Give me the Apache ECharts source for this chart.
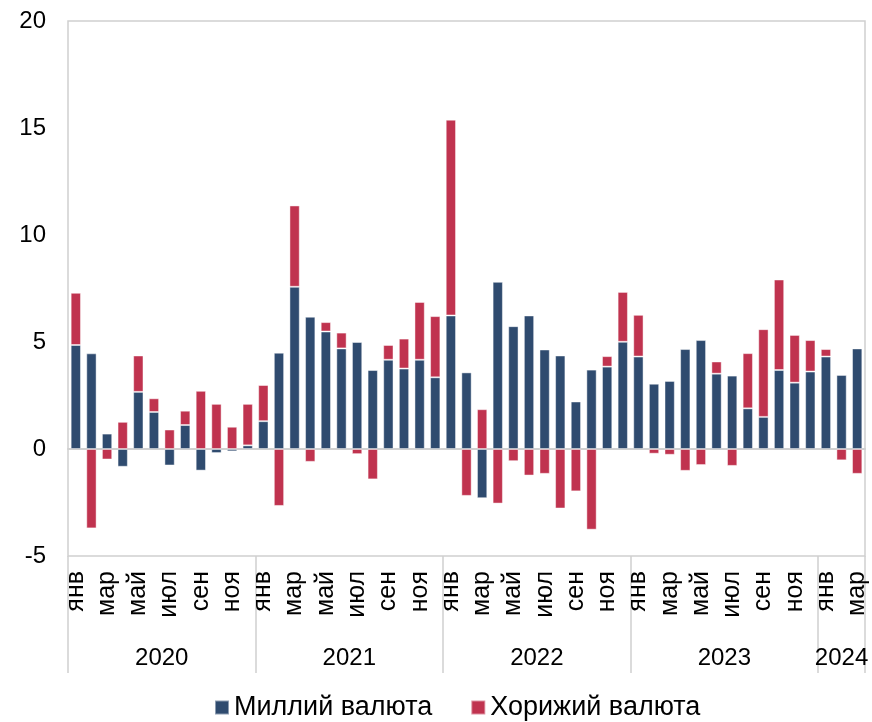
<!DOCTYPE html>
<html>
<head>
    <meta charset="utf-8">
    <title>Миллий ва хорижий валюта</title>
    <script src="https://cdn.jsdelivr.net/npm/echarts@6/dist/echarts.min.js"></script>
</head>
<body style="margin:0;">
    <div id="main" style="width:872px;height:722px;"></div>
    <script type="text/javascript">
        // ойлар (2020 янв - 2024 мар)
        var monthNames = ['янв', 'фев', 'мар', 'апр', 'май', 'июн', 'июл', 'авг', 'сен', 'окт', 'ноя', 'дек'];
        var years = [2020, 2021, 2022, 2023, 2024];
        var monthsPerYear = [12, 12, 12, 12, 3];

        var milliy = [
            4.86, 4.47, 0.72, -0.83, 2.67, 1.73, -0.77, 1.12, -1.01, -0.19, -0.11, 0.17,
            1.30, 4.50, 7.58, 6.18, 5.49, 4.70, 5.00, 3.69, 4.17, 3.76, 4.17, 3.35,
            6.24, 3.58, -2.30, 7.81, 5.74, 6.24, 4.65, 4.37, 2.22, 3.71, 3.85, 5.01,
            4.32, 3.05, 3.18, 4.67, 5.09, 3.52, 3.43, 1.90, 1.50, 3.69, 3.10, 3.62,
            4.32, 3.46, 4.70
        ];
        var horijiy = [
            2.44, -3.71, -0.49, 1.27, 1.70, 0.64, 0.91, 0.67, 2.72, 2.11, 1.04, 1.94,
            1.69, -2.66, 3.80, -0.60, 0.44, 0.74, -0.24, -1.42, 0.69, 1.40, 2.70, 2.86,
            9.15, -2.19, 1.86, -2.55, -0.57, -1.24, -1.16, -2.78, -1.98, -3.77, 0.49, 2.33,
            1.95, -0.22, -0.27, -1.02, -0.75, 0.57, -0.79, 2.58, 4.10, 4.23, 2.23, 1.47,
            0.35, -0.53, -1.16
        ];

        var categories = [];
        years.forEach(function (y, k) {
            for (var m = 0; m < monthsPerYear[k]; m++) {
                categories.push(monthNames[m]);
            }
        });

        // йил чегаралари ва йил ёзувлари ўрни
        var yearBounds = [0];
        var yearMids = [];
        years.forEach(function (y, k) {
            var start = yearBounds[yearBounds.length - 1];
            yearBounds.push(start + monthsPerYear[k]);
            yearMids.push(start + monthsPerYear[k] / 2);
        });

        var gray = '#d0d0d0';
        var font = 'Liberation Sans, Arial, sans-serif';

        var chart = echarts.init(document.getElementById('main'));
        var option = {
            animation: false,
            textStyle: {fontFamily: font},
            grid: {
                left: 68, right: 7, top: 21, bottom: 166,
                show: true, borderColor: gray, borderWidth: 1.5
            },
            legend: {
                top: 689,
                left: 209,
                icon: 'rect',
                itemWidth: 14,
                itemHeight: 14,
                itemGap: 38,
                textStyle: {fontSize: 27, color: '#000', fontFamily: font},
                data: ['Миллий валюта', 'Хорижий валюта']
            },
            xAxis: [
                {
                    // ой номлари
                    type: 'category',
                    data: categories,
                    position: 'bottom',
                    axisLine: {show: false, onZero: false},
                    axisTick: {show: false},
                    axisLabel: {
                        interval: 1,
                        rotate: 90,
                        margin: 15,
                        fontSize: 25,
                        color: '#000'
                    }
                },
                {
                    // йиллар
                    type: 'value',
                    min: 0,
                    max: categories.length,
                    position: 'bottom',
                    splitLine: {show: false},
                    axisLine: {show: false, onZero: false},
                    axisTick: {
                        show: true,
                        customValues: yearBounds,
                        length: 117,
                        lineStyle: {color: gray, width: 1.5}
                    },
                    axisLabel: {
                        customValues: yearMids,
                        margin: 90,
                        fontSize: 24,
                        color: '#000',
                        formatter: function (v) {
                            return years[yearMids.indexOf(v)];
                        }
                    }
                },
                {
                    // ноль чизиғи
                    type: 'category',
                    data: categories,
                    axisLine: {show: true, onZero: true, lineStyle: {color: gray, width: 2}},
                    axisTick: {show: false},
                    axisLabel: {show: false}
                }
            ],
            yAxis: {
                type: 'value',
                min: -5,
                max: 20,
                interval: 5,
                splitLine: {show: false},
                axisLine: {show: false},
                axisTick: {show: false},
                axisLabel: {fontSize: 24, color: '#000', margin: 22}
            },
            series: [
                {
                    name: 'Миллий валюта',
                    type: 'bar',
                    stack: 'total',
                    barWidth: '66%',
                    itemStyle: {color: '#2F4B6F', borderColor: 'rgba(255,255,255,0.45)', borderWidth: 1},
                    data: milliy
                },
                {
                    name: 'Хорижий валюта',
                    type: 'bar',
                    stack: 'total',
                    barWidth: '66%',
                    itemStyle: {color: '#C0334F', borderColor: 'rgba(255,255,255,0.45)', borderWidth: 1},
                    data: horijiy
                }
            ]
        };
        chart.setOption(option);
    </script>
</body>
</html>
